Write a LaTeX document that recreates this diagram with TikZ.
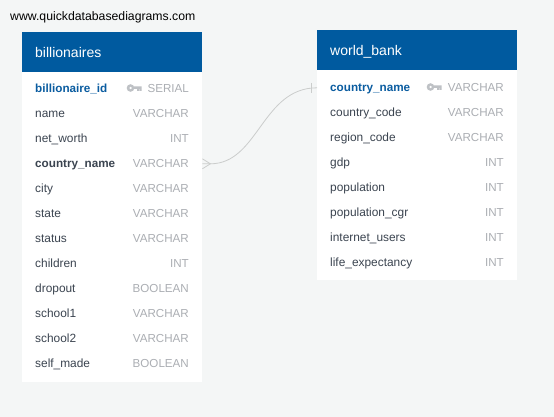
\documentclass[tikz,border=0pt]{standalone}
\usepackage{fontspec}
\setmainfont{Liberation Sans}
\definecolor{pagebg}{HTML}{F4F6F6}
\definecolor{headbg}{HTML}{005A9F}
\definecolor{namecol}{HTML}{3B4450}
\definecolor{typecol}{HTML}{ABAEB3}
\definecolor{pkcol}{HTML}{0A5CA0}
\definecolor{linkcol}{HTML}{CBCDCC}
\definecolor{keycol}{HTML}{BEC1C5}
\tikzset{
 x=1pt,y=-1pt,
 tablebody/.style={fill=white,draw=none,inner sep=0pt,minimum width=#1,anchor=north west},
 tablehead/.style={fill=headbg,draw=none,inner sep=0pt,minimum width=#1,minimum height=40pt,anchor=north west},
 headtext/.style={anchor=base west,inner sep=0pt,text=white,font=\fontsize{14}{14}\selectfont},
 fname/.style={anchor=base west,inner sep=0pt,text=namecol,font=\fontsize{11.9}{14}\selectfont},
 pkname/.style={anchor=base west,inner sep=0pt,text=pkcol,font=\fontsize{11.7}{14}\selectfont\bfseries},
 fkname/.style={anchor=base west,inner sep=0pt,text=namecol,font=\fontsize{11.7}{14}\selectfont\bfseries},
 ftype/.style={anchor=base east,inner sep=0pt,text=typecol,font=\fontsize{11.6}{14}\selectfont},
 link/.style={draw=linkcol,line width=0.8pt},
}
\newcommand{\keyicon}[2]{%
 \fill[keycol,even odd rule] (#1,#2) circle[radius=3.8] (#1,#2) circle[radius=1.5];
 \fill[keycol] (#1+3,#2-1.5) rectangle (#1+11,#2+0.8) (#1+6.5,#2) rectangle (#1+8.5,#2+2.8) (#1+9.2,#2) rectangle (#1+11,#2+2.8);
}
\begin{document}
\begin{tikzpicture}
\useasboundingbox (0,0) rectangle (554,417);
\fill[pagebg] (0,0) rectangle (554,417);
\node[anchor=base west,inner sep=0pt,text=black,font=\fontsize{12.25}{14}\selectfont] (site) at (10,20.6) {www.quickdatabasediagrams.com};
% billionaires
\node[tablebody=180pt,minimum height=310pt] (tbA) at (22,72) {};
\node[tablehead=180pt] (headA) at (22,32) {};
\node[headtext] (titleA) at (35,57.7) {billionaires};
\foreach \i/\n/\t/\s in {0/billionaire\_id/SERIAL/pkname,1/name/VARCHAR/fname,2/net\_worth/INT/fname,3/country\_name/VARCHAR/fkname,4/city/VARCHAR/fname,5/state/VARCHAR/fname,6/status/VARCHAR/fname,7/children/INT/fname,8/dropout/BOOLEAN/fname,9/school1/VARCHAR/fname,10/school2/VARCHAR/fname,11/self\_made/BOOLEAN/fname}{
  \node[\s] (a\i) at (35,92.8+25*\i) {\n};
  \node[ftype] (at\i) at (189,92.8+25*\i) {\t};
}
\keyicon{130.5}{88}
% world_bank
\node[tablebody=200pt,minimum height=210pt] (tbB) at (317,70) {};
\node[tablehead=200pt] (headB) at (317,30) {};
\node[headtext] (titleB) at (330,55.7) {world\_bank};
\foreach \i/\n/\t/\s in {0/country\_name/VARCHAR/pkname,1/country\_code/VARCHAR/fname,2/region\_code/VARCHAR/fname,3/gdp/INT/fname,4/population/INT/fname,5/population\_cgr/INT/fname,6/internet\_users/INT/fname,7/life\_expectancy/INT/fname}{
  \node[\s] (b\i) at (330,91.8+25*\i) {\n};
  \node[ftype] (bt\i) at (504,91.8+25*\i) {\t};
}
\keyicon{430.5}{87}
% connector
\coordinate (from) at (tbA.east |- at3.center);
\coordinate (to) at (tbB.west |- bt0.center);
\coordinate (fork) at ([xshift=8pt]from);
\coordinate (forkU) at ([yshift=5pt]from);
\coordinate (forkD) at ([yshift=-5pt]from);
\coordinate (barU) at ([xshift=-6pt,yshift=5pt]to);
\coordinate (barD) at ([xshift=-6pt,yshift=-5pt]to);
\draw[link] (from) -- (fork) .. controls +(48,0) and ([xshift=-55pt]to) .. (to);
\draw[link] (forkU) -- (fork) -- (forkD);
\draw[link] (barU) -- (barD);
\end{tikzpicture}
\end{document}
